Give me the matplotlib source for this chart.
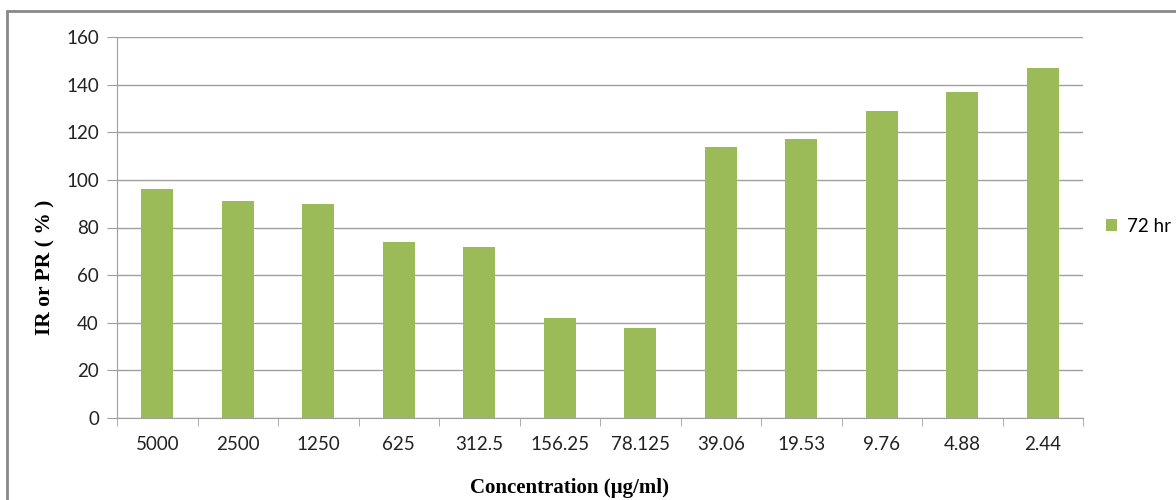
import matplotlib.pyplot as plt
from matplotlib.patches import Rectangle

# concentration labels and 72 hr response values
concentrations = ['5000', '2500', '1250', '625', '312.5', '156.25', '78.125',
                  '39.06', '19.53', '9.76', '4.88', '2.44']
values_72hr = [96, 91, 90, 74, 72, 42, 38, 114, 117, 129, 137, 147]
y_ticks = [0, 20, 40, 60, 80, 100, 120, 140, 160]

BAR_COLOR = '#9BBB59'
GRID_COLOR = '#A0A0A0'
TICK_FONT = 'Lato'

fig = plt.figure(figsize=(11.76, 5), dpi=100)
ax = fig.add_axes([117/1176, 1-418/500, (1083-117)/1176, (418-37)/500])

x = list(range(len(concentrations)))
ax.bar(x, values_72hr, width=0.4, color=BAR_COLOR, label='72 hr', zorder=3)

ax.set_xlim(-0.5, len(concentrations) - 0.5)
ax.set_ylim(0, 160)
ax.set_yticks(y_ticks)
ax.set_yticklabels([str(v) for v in y_ticks], fontsize=13.5, family=TICK_FONT, color='#222222')
ax.yaxis.grid(True, color=GRID_COLOR, linewidth=1, zorder=0)

# category labels centred, tick marks between categories
ax.set_xticks(x)
ax.set_xticklabels(concentrations, fontsize=13.5, family=TICK_FONT, color='#222222')
ax.tick_params(axis='x', length=0, pad=13)
ax.set_xticks([i + 0.5 for i in range(-1, len(concentrations))], minor=True)
ax.tick_params(axis='x', which='minor', length=6, color=GRID_COLOR, direction='out')
ax.tick_params(axis='y', length=7, color=GRID_COLOR, pad=6)

for side in ['top', 'right']:
    ax.spines[side].set_visible(False)
ax.spines['left'].set_color(GRID_COLOR)
ax.spines['bottom'].set_color(GRID_COLOR)

ax.set_xlabel('Concentration (µg/ml)', fontsize=15, fontweight='bold',
              family='Liberation Serif', va='center')
ax.xaxis.set_label_coords((569-117)/966, -(488-418)/381)
ax.set_ylabel('IR or PR ( % )', fontsize=15.5, fontweight='bold',
              family='Liberation Serif', va='center')
ax.yaxis.set_label_coords(-(117-45)/966, (418-267)/381)

leg = ax.legend(loc='center left', bbox_to_anchor=(1.0238, 0.503), frameon=False,
                borderaxespad=0, borderpad=0,
                handlelength=0.6, handleheight=0.6, handletextpad=0.5,
                prop={'family': TICK_FONT, 'size': 13.5})

# outer chart border (left and top visible)
fig.patches.append(Rectangle((7/1176, -0.1), 1.2, 1-11/500+0.1, transform=fig.transFigure,
                             fill=False, edgecolor='#888888', linewidth=2))

fig.savefig('out.png', dpi=100)
